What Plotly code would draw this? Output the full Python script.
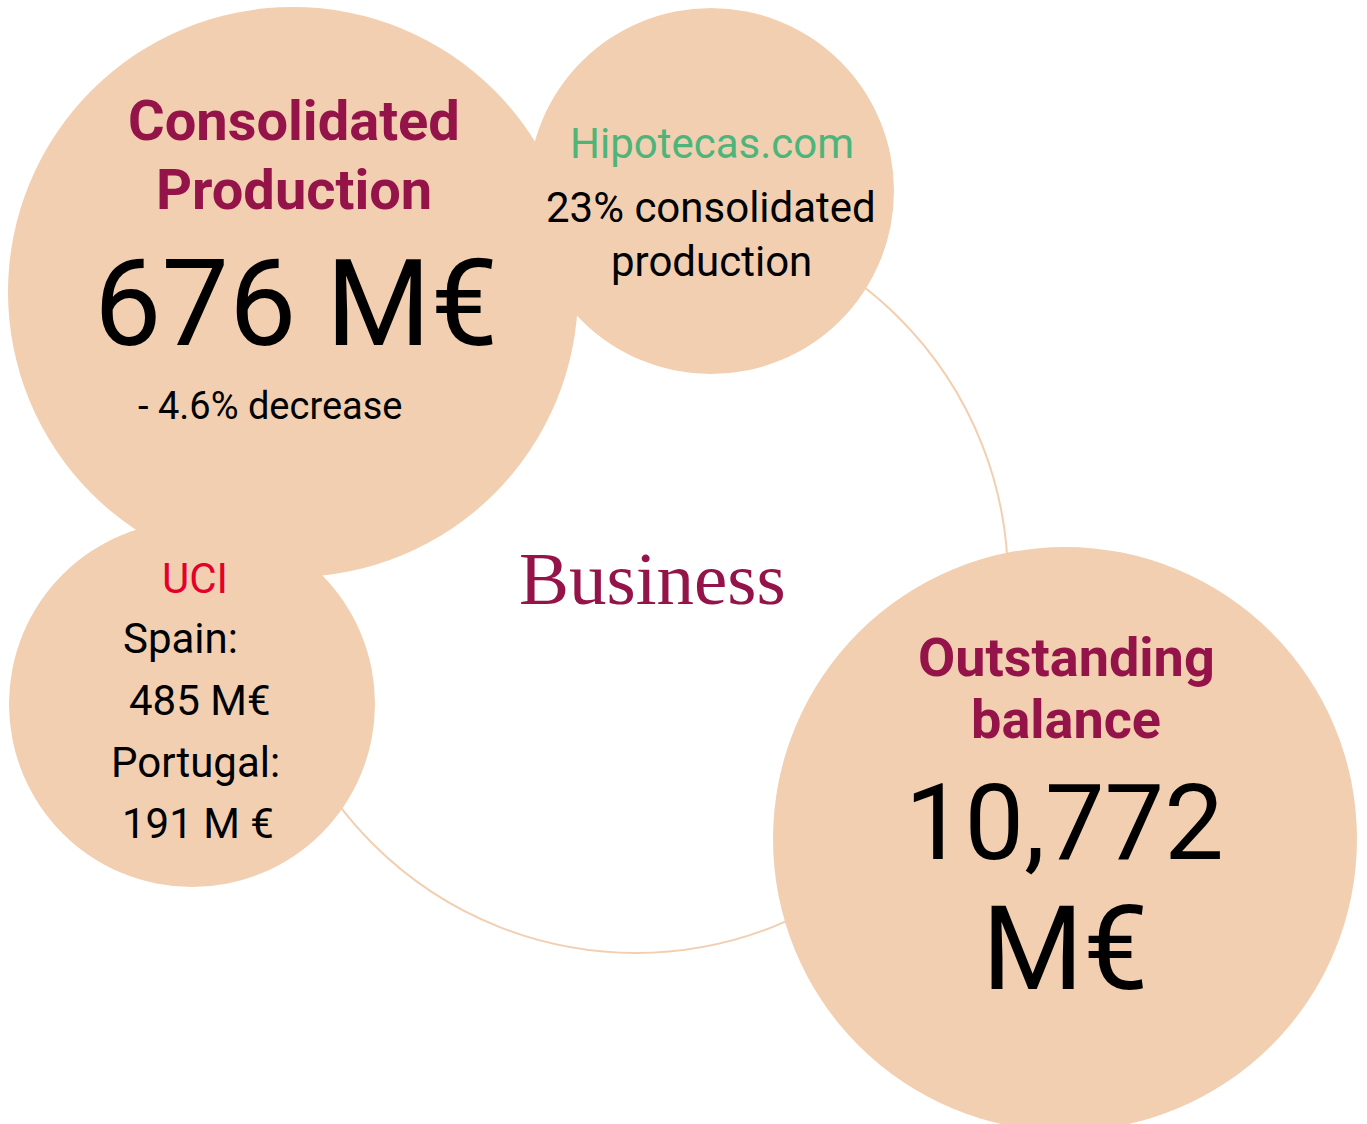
import plotly.graph_objects as go

# ---- content ----
center_title = "Business"
production_title = ["Consolidated", "Production"]
production_value = "676 M€"
production_change = "- 4.6% decrease"
hipotecas_name = "Hipotecas.com"
hipotecas_share = ["23% consolidated", "production"]
uci_name = "UCI"
uci_lines = ["Spain:", "485 M€", "Portugal:", "191 M €"]
balance_title = ["Outstanding", "balance"]
balance_value = ["10,772", "M€"]

# ---- style ----
W, H = 1367, 1124
PEACH = "#F2CFB1"
MAROON = "#94144A"
GREEN = "#4DB57A"
RED = "#E4002B"
BLACK = "#000000"
SANS = "Roboto, Arial, sans-serif"
SERIF = "Liberation Serif, Times New Roman, serif"

fig = go.Figure()


def circle(cx, cy, r, fill=True):
    fig.add_shape(
        type="circle", xref="x", yref="y",
        x0=cx - r, x1=cx + r, y0=cy - r, y1=cy + r,
        fillcolor=PEACH if fill else "rgba(0,0,0,0)",
        line=dict(color=PEACH, width=0 if fill else 2),
        layer="below",
    )


# outline ring behind
circle(636, 581, 372, fill=False)
# filled bubbles
circle(293, 292, 285)
circle(711, 191, 183)
circle(192, 704, 183)
circle(1065, 839, 292)


def label(text, x, y, size, color=BLACK, bold=False, family=SANS):
    fig.add_annotation(
        x=x, y=y, xref="x", yref="y", text=f"<b>{text}</b>" if bold else text,
        showarrow=False, xanchor="center", yanchor="middle",
        font=dict(family=family, size=size, color=color),
    )


# Consolidated production
label(production_title[0], 294, 121, 56, MAROON, bold=True)
label(production_title[1], 294, 190, 56, MAROON, bold=True)
label(production_value, 296, 304, 120)
label(production_change, 270, 406, 38)

# Hipotecas.com
label(hipotecas_name, 712, 143, 42, GREEN)
label(hipotecas_share[0], 711, 207, 42)
label(hipotecas_share[1], 711, 261, 42)

# UCI
label(uci_name, 195, 578, 42, RED)
label(uci_lines[0], 180, 638, 42)
label(uci_lines[1], 200, 700, 42)
label(uci_lines[2], 195, 762, 42)
label(uci_lines[3], 198, 823, 42)

# Outstanding balance
label(balance_title[0], 1066, 657, 54, MAROON, bold=True)
label(balance_title[1], 1066, 719, 54, MAROON, bold=True)
label(balance_value[0], 1064, 823, 106)
label(balance_value[1], 1065, 949, 116)

# Center
label(center_title, 652, 578, 75, MAROON, family=SERIF)

fig.update_xaxes(range=[0, W], visible=False, fixedrange=True)
fig.update_yaxes(range=[H, 0], visible=False, fixedrange=True)
fig.update_layout(
    width=W, height=H,
    margin=dict(l=0, r=0, t=0, b=0),
    paper_bgcolor="white", plot_bgcolor="white",
    showlegend=False,
)

fig.write_html("out.html", config={"displayModeBar": False},
               post_script="document.body.style.margin='0';")
